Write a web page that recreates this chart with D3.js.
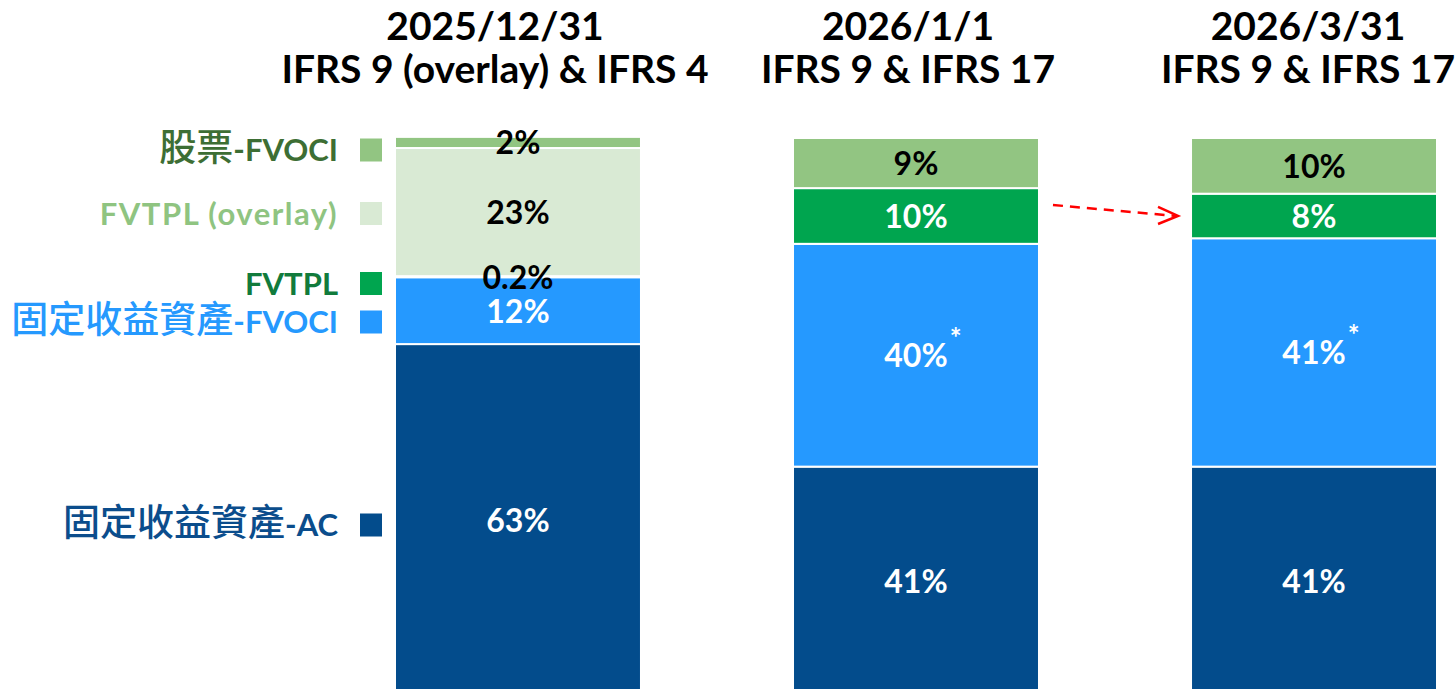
<!DOCTYPE html>
<html>
<head>
<meta charset="utf-8">
<script src="https://cdn.jsdelivr.net/npm/d3@7"></script>
<style>
  body { margin: 0; background: #fff; }
  svg { display: block; }
</style>
</head>
<body>
<div id="chart"></div>
<script>
// data
const periods = ["2025/12/31", "2026/1/1", "2026/3/31"];
const regimes = ["IFRS 9 (overlay) & IFRS 4", "IFRS 9 & IFRS 17", "IFRS 9 & IFRS 17"];
const categories = ["固定收益資產-AC", "固定收益資產-FVOCI", "FVTPL", "FVTPL (overlay)", "股票-FVOCI"];
const acValues = [63, 41, 41];
const fixedFvociValues = [12, 40, 41];
const fvtplValues = [0.2, 10, 8];
const overlayValues = [23, 0, 0];
const stockFvociValues = [2, 9, 10];
const starred = ["固定收益資產-FVOCI"]; // labels with asterisk in IFRS 17 bars

const height = 689,
    width = 1455,
    margin = ({ top: 138, bottom: -6 });

const fills = ["#034c8c", "#2599ff", "#00a54f", "#d9ead4", "#92c582"];
const legendColors = ["#0b4d8c", "#2599fe", "#117b3c", "#8fc481", "#3d6e34"];
const legendY = [525, 322, 283.5, 213.5, 150];
const titleDx = [-23, -8, -6];

const series = [acValues, fixedFvociValues, fvtplValues, overlayValues, stockFvociValues];

let rows = periods.map((p, i) => {
    let r = { period: p };
    categories.forEach((c, j) => r[c] = series[j][i]);
    return r;
});

let stacked = d3.stack().keys(categories)(rows);

let svg = d3.select("#chart")
    .append("svg")
    .attr("width", width)
    .attr("height", height)
    .style("font-family", "Lato, 'Noto Sans CJK TC', sans-serif")
    .style("font-weight", 700);

const x = d3.scaleBand()
    .domain(periods)
    .range([395, 1437])
    .paddingInner(0.382)
    .paddingOuter(0);

const y = d3.scaleLinear()
    .domain([0, 100])
    .range([height - margin.bottom, margin.top]);

const color = d3.scaleOrdinal().domain(categories).range(fills);

// titles
let titles = svg.append("g");
periods.forEach((p, i) => {
    let cx = x(p) + x.bandwidth() / 2 + titleDx[i];
    let t = titles.append("text")
        .attr("text-anchor", "middle")
        .style("font-size", "39px")
        .attr("fill", "#000");
    t.append("tspan").attr("x", cx).attr("y", 40).text(p);
    t.append("tspan").attr("x", cx).attr("y", 83).text(regimes[i]);
});

// bars
let layer = svg.selectAll(".layer")
    .data(stacked)
    .join("g")
    .attr("class", "layer")
    .attr("fill", d => color(d.key));

layer.selectAll("rect")
    .data(d => d.filter(s => s[1] - s[0] > 0))
    .join("rect")
    .attr("x", d => x(d.data.period))
    .attr("width", x.bandwidth())
    .attr("y", d => y(d[1]))
    .attr("height", d => y(d[0]) - y(d[1]))
    .attr("stroke", "#fff")
    .attr("stroke-width", 2);

// labels
stacked.forEach(s => {
    s.forEach(d => {
        let v = d.data[s.key];
        if (v <= 0) return;
        let light = s.key === "股票-FVOCI" || s.key === "FVTPL (overlay)" || v < 1;
        let cx = x(d.data.period) + x.bandwidth() / 2;
        let cy = (y(d[0]) + y(d[1])) / 2;
        let t = svg.append("text")
            .attr("x", cx)
            .attr("y", cy + 12)
            .attr("text-anchor", "middle")
            .style("font-size", "32px")
            .attr("fill", light ? "#000" : "#fff")
            .text(v + "%");
        if (starred.includes(s.key) && d.data.period !== periods[0]) {
            let w = t.node().getComputedTextLength();
            svg.append("text")
                .attr("x", cx + w / 2 + 2)
                .attr("y", cy - 7)
                .style("font-size", "28px")
                .attr("fill", "#fff")
                .text("*");
        }
    });
});

// legend
let legend = svg.append("g");
categories.forEach((c, i) => {
    legend.append("rect")
        .attr("x", 360)
        .attr("y", legendY[i] - 11.5)
        .attr("width", 22)
        .attr("height", 23)
        .attr("fill", fills[i]);
    let t = legend.append("text")
        .attr("x", 338)
        .attr("y", legendY[i] + 11)
        .attr("text-anchor", "end")
        .attr("fill", legendColors[i])
        .style("font-size", "31px");
    c.split(/([\u4e00-\u9fff]+)/).filter(p => p).forEach(p => {
        let sp = t.append("tspan").text(p);
        if (/[\u4e00-\u9fff]/.test(p)) sp.style("font-size", "37px").style("font-weight", 500);
    });
    if (c === "FVTPL (overlay)") t.style("letter-spacing", "1.5px");
});

// red dashed arrow from FVTPL of bar 2 to bar 3
const ax1 = x(periods[1]) + x.bandwidth() + 14,
    ax2 = x(periods[2]) - 13;
const fv3 = stacked[2][2];
const ay2 = (y(fv3[0]) + y(fv3[1])) / 2,
    ay1 = ay2 - 11;
svg.append("line")
    .attr("x1", ax1).attr("y1", ay1)
    .attr("x2", ax2 - 2).attr("y2", ay2)
    .attr("stroke", "#ff0000")
    .attr("stroke-width", 2.5)
    .attr("stroke-dasharray", "10,7");
svg.append("path")
    .attr("d", `M${ax2 - 20},${ay2 - 9} L${ax2},${ay2} L${ax2 - 20},${ay2 + 8}`)
    .attr("fill", "none")
    .attr("stroke", "#ff0000")
    .attr("stroke-width", 2.5);
</script>
</body>
</html>
